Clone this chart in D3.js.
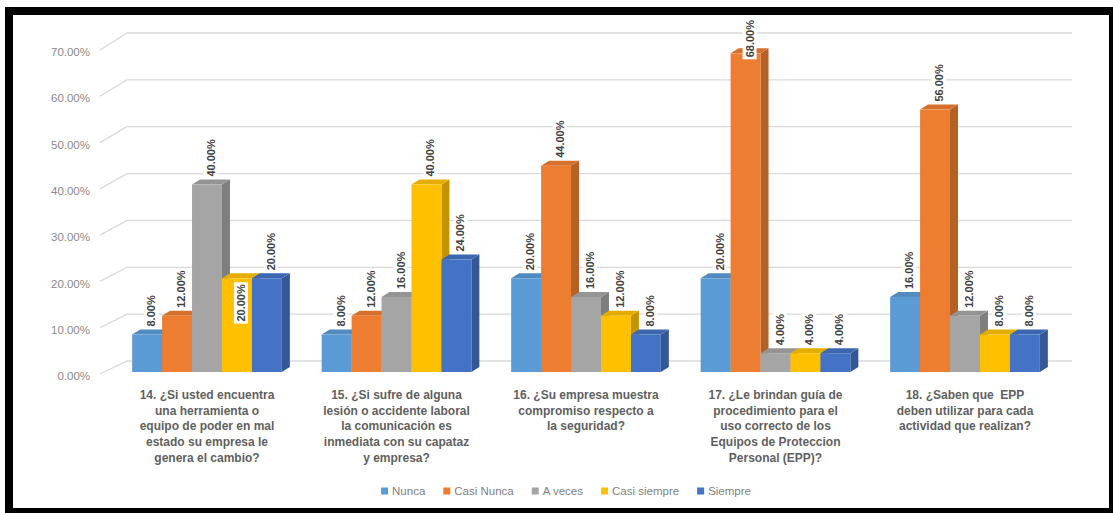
<!DOCTYPE html>
<html>
<head>
<meta charset="utf-8">
<script src="https://cdn.jsdelivr.net/npm/d3@7"></script>
<style>
  html, body { margin: 0; padding: 0; background: #ffffff; }
  svg { display: block; }
  .cat tspan { white-space: pre; }
</style>
</head>
<body>
<svg id="chart" width="1113" height="513"></svg>
<script>
// Survey questions (one entry per group) and their wrapped label lines
const questionCodes = ["14", "15", "16", "17", "18"];
const questionLines = [
  ["14. ¿Si usted encuentra", "una herramienta o", "equipo de poder en mal", "estado su empresa le", "genera el cambio?"],
  ["15. ¿Si sufre de alguna", "lesión o accidente laboral", "la comunicación es", "inmediata con su capataz", "y empresa?"],
  ["16. ¿Su empresa muestra", "compromiso respecto a", "la seguridad?"],
  ["17. ¿Le brindan guía de", "procedimiento para el", "uso correcto de los", "Equipos de Proteccion", "Personal (EPP)?"],
  ["18. ¿Saben que  EPP", "deben utilizar para cada", "actividad que realizan?"]
];

// Answer options
const seriesNames = ["Nunca", "Casi Nunca", "A veces", "Casi siempre", "Siempre"];

// Percentage of answers per option, one value per question
const nunca       = [8, 8, 20, 20, 16];
const casiNunca   = [12, 12, 44, 68, 56];
const aVeces      = [40, 16, 16, 4, 12];
const casiSiempre = [20, 40, 12, 4, 8];
const siempre     = [20, 24, 8, 4, 8];

// Value axis ticks (percent)
const yTicks = [0, 10, 20, 30, 40, 50, 60, 70];

const seriesValues = [nunca, casiNunca, aVeces, casiSiempre, siempre];
const seriesColors = ["#5B9BD5", "#ED7D31", "#A5A5A5", "#FFC000", "#4472C4"];

const svg = d3.select("#chart");
const W = 1113, H = 513;

// Frame
svg.append("rect").attr("x", 0).attr("y", 0).attr("width", W).attr("height", H).attr("fill", "#ffffff");
svg.append("rect").attr("x", 5).attr("y", 7).attr("width", W - 5).attr("height", H - 7).attr("fill", "#000000");
svg.append("rect").attr("x", 13).attr("y", 15).attr("width", W - 13 - 4).attr("height", H - 15 - 5).attr("fill", "#ffffff");

// Scales
const x0 = d3.scaleBand().domain(questionCodes).range([112.25, 1059.75]).paddingInner(0.21).paddingOuter(0.105);
const x1 = d3.scaleBand().domain(seriesNames).range([0, x0.bandwidth()]);
const y = d3.scaleLinear().domain([0, 70]).range([372, 44]);      // front plane of the bars
const yWall = d3.scaleLinear().domain([0, 70]).range([361, 33]);  // back wall
const yEdge = d3.scaleLinear().domain([0, 70]).range([374, 50]);  // left wall front edge
const yLabel = d3.scaleLinear().domain([0, 70]).range([376, 52]); // tick labels
const fmt = d3.format(".2%");
const color = d3.scaleOrdinal().domain(seriesNames).range(seriesColors);

const depthX = 8, depthY = 5;
const wallLeft = 127, wallRight = 1072, edgeLeft = 100;

// Gridlines on the back wall with the perspective edge on the side wall
const grid = svg.append("g");
yTicks.forEach(t => {
  grid.append("path")
    .attr("d", `M${edgeLeft},${yEdge(t)} L${wallLeft},${yWall(t)} L${wallRight},${yWall(t)}`)
    .attr("fill", "none")
    .attr("stroke", "#d9d9d9")
    .attr("stroke-width", 1.3);
});

// Value axis labels
const yAxis = d3.axisLeft(yLabel).tickValues(yTicks).tickFormat(d => fmt(d / 100)).tickSize(0).tickPadding(0);
const axisG = svg.append("g").attr("transform", "translate(90,0)").call(yAxis);
axisG.select(".domain").remove();
axisG.selectAll("text")
  .attr("font-family", "Liberation Sans, Arial, sans-serif")
  .attr("font-size", 11.5)
  .attr("fill", "#8a8a8a");

// Bars (front, top and side faces)
const rows = [];
questionCodes.forEach((q, qi) => {
  seriesNames.forEach((s, si) => {
    rows.push({ q, qi, s, v: seriesValues[si][qi] });
  });
});

const barsG = svg.append("g");
rows.forEach(d => {
  const bx = x0(d.q) + x1(d.s);
  const bw = x1.bandwidth();
  const top = y(d.v), base = y(0);
  const c = d3.color(color(d.s));
  const g = barsG.append("g");
  // side
  g.append("path")
    .attr("d", `M${bx + bw},${top} L${bx + bw + depthX},${top - depthY} L${bx + bw + depthX},${base - depthY} L${bx + bw},${base} Z`)
    .attr("fill", c.darker(0.75));
  // top
  g.append("path")
    .attr("d", `M${bx},${top} L${bx + depthX},${top - depthY} L${bx + bw + depthX},${top - depthY} L${bx + bw},${top} Z`)
    .attr("fill", c.darker(0.3));
  // front
  g.append("rect")
    .attr("x", bx).attr("y", top)
    .attr("width", bw).attr("height", base - top)
    .attr("fill", c);
});

// Data labels, rotated, placed above the bars (kept inside the chart area)
const labelsInside = new Set(["14|Casi siempre"]);
const labelsG = svg.append("g");
rows.forEach(d => {
  const bx = x0(d.q) + x1(d.s);
  const bw = x1.bandwidth();
  const cx = bx + bw / 2 + depthX / 2;
  const t = labelsG.append("text")
    .attr("font-family", "Liberation Sans, Arial, sans-serif")
    .attr("font-size", 11)
    .attr("font-weight", "bold")
    .attr("fill", "#404040")
    .attr("text-anchor", "start")
    .attr("dominant-baseline", "central")
    .text(fmt(d.v / 100));
  const len = t.node().getComputedTextLength();
  let bottom;
  if (labelsInside.has(d.q + "|" + d.s)) {
    bottom = y(d.v) + 6 + len;
  } else {
    bottom = y(d.v) - depthY - 3;
    if (bottom - len < 20) bottom = 20 + len;
  }
  t.attr("transform", `translate(${cx},${bottom}) rotate(-90)`);
  labelsG.insert("rect", () => t.node())
    .attr("x", cx - 7).attr("y", bottom - len - 2)
    .attr("width", 14).attr("height", len + 4)
    .attr("fill", "#ffffff");
});

// Category labels
const catG = svg.append("g").attr("class", "cat");
questionCodes.forEach((q, qi) => {
  const cx = x0(q) + x0.bandwidth() / 2;
  const txt = catG.append("text")
    .attr("x", cx).attr("y", 399)
    .attr("text-anchor", "middle")
    .attr("font-family", "Liberation Sans, Arial, sans-serif")
    .attr("font-size", 12)
    .attr("font-weight", "bold")
    .attr("fill", "#5f5f5f");
  questionLines[qi].forEach((line, li) => {
    txt.append("tspan").attr("x", cx).attr("dy", li === 0 ? 0 : 15.7).text(line);
  });
});

// Legend
const legendG = svg.append("g");
let lx = 0;
seriesNames.forEach(s => {
  const item = legendG.append("g");
  item.append("rect").attr("x", 0).attr("y", -3.5).attr("width", 7).attr("height", 7).attr("fill", color(s));
  const tx = item.append("text")
    .attr("x", 11).attr("y", 0)
    .attr("dominant-baseline", "central")
    .attr("font-family", "Liberation Sans, Arial, sans-serif")
    .attr("font-size", 11.5)
    .attr("fill", "#7f7f7f")
    .text(s);
  const w = 11 + tx.node().getComputedTextLength();
  item.attr("transform", `translate(${lx},0)`);
  lx += w + 18;
});
const legendWidth = lx - 18;
legendG.attr("transform", `translate(${566 - legendWidth / 2},491)`);
</script>
</body>
</html>
